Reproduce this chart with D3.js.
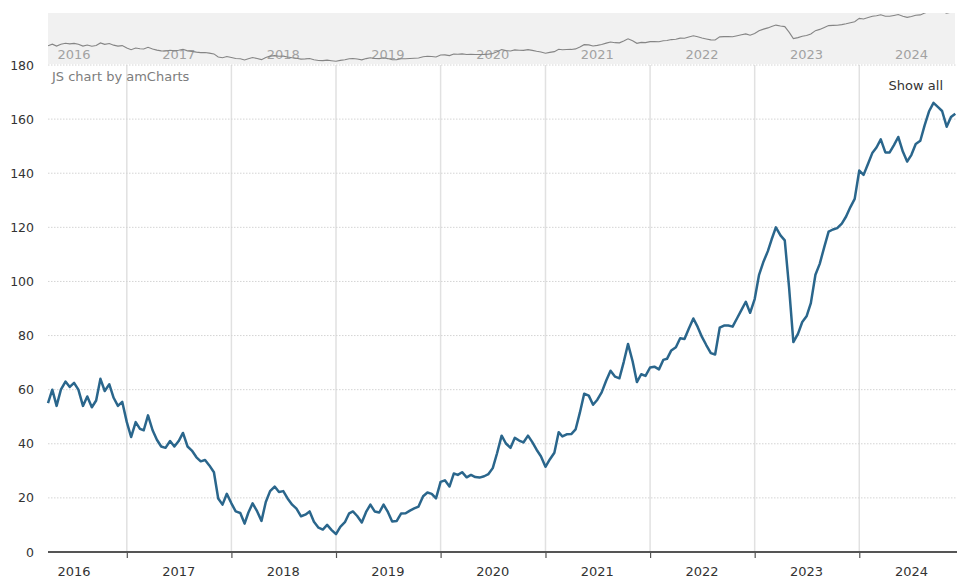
<!DOCTYPE html>
<html><head><meta charset="utf-8">
<script src="https://cdn.jsdelivr.net/npm/d3@7"></script>
<style>
body{margin:0;background:#fff;}
svg{display:block;font-family:"DejaVu Sans",Verdana,sans-serif;}
</style>
</head><body>
<svg id="chart" width="968" height="578"></svg>
<script>
const dates = [
"2016-04-01","2016-04-16","2016-05-01","2016-05-16","2016-06-01","2016-06-16","2016-07-01","2016-07-16","2016-08-01","2016-08-16","2016-09-01","2016-09-16","2016-10-01","2016-10-16","2016-11-01","2016-11-16","2016-12-01","2016-12-16",
"2017-01-01","2017-01-16","2017-02-01","2017-02-16","2017-03-01","2017-03-16","2017-04-01","2017-04-16","2017-05-01","2017-05-16","2017-06-01","2017-06-16","2017-07-01","2017-07-16","2017-08-01","2017-08-16","2017-09-01","2017-09-16","2017-10-01","2017-10-16","2017-11-01","2017-11-16","2017-12-01","2017-12-16",
"2018-01-01","2018-01-16","2018-02-01","2018-02-16","2018-03-01","2018-03-16","2018-04-01","2018-04-16","2018-05-01","2018-05-16","2018-06-01","2018-06-16","2018-07-01","2018-07-16","2018-08-01","2018-08-16","2018-09-01","2018-09-16","2018-10-01","2018-10-16","2018-11-01","2018-11-16","2018-12-01","2018-12-16",
"2019-01-01","2019-01-16","2019-02-01","2019-02-16","2019-03-01","2019-03-16","2019-04-01","2019-04-16","2019-05-01","2019-05-16","2019-06-01","2019-06-16","2019-07-01","2019-07-16","2019-08-01","2019-08-16","2019-09-01","2019-09-16","2019-10-01","2019-10-16","2019-11-01","2019-11-16","2019-12-01","2019-12-16",
"2020-01-01","2020-01-16","2020-02-01","2020-02-16","2020-03-01","2020-03-16","2020-04-01","2020-04-16","2020-05-01","2020-05-16","2020-06-01","2020-06-16","2020-07-01","2020-07-16","2020-08-01","2020-08-16","2020-09-01","2020-09-16","2020-10-01","2020-10-16","2020-11-01","2020-11-16","2020-12-01","2020-12-16",
"2021-01-01","2021-01-16","2021-02-01","2021-02-16","2021-03-01","2021-03-16","2021-04-01","2021-04-16","2021-05-01","2021-05-16","2021-06-01","2021-06-16","2021-07-01","2021-07-16","2021-08-01","2021-08-16","2021-09-01","2021-09-16","2021-10-01","2021-10-16","2021-11-01","2021-11-16","2021-12-01","2021-12-16",
"2022-01-01","2022-01-16","2022-02-01","2022-02-16","2022-03-01","2022-03-16","2022-04-01","2022-04-16","2022-05-01","2022-05-16","2022-06-01","2022-06-16","2022-07-01","2022-07-16","2022-08-01","2022-08-16","2022-09-01","2022-09-16","2022-10-01","2022-10-16","2022-11-01","2022-11-16","2022-12-01","2022-12-16",
"2023-01-01","2023-01-16","2023-02-01","2023-02-16","2023-03-01","2023-03-16","2023-04-01","2023-04-16","2023-05-01","2023-05-16","2023-06-01","2023-06-16","2023-07-01","2023-07-16","2023-08-01","2023-08-16","2023-09-01","2023-09-16","2023-10-01","2023-10-16","2023-11-01","2023-11-16","2023-12-01","2023-12-16",
"2024-01-01","2024-01-16","2024-02-01","2024-02-16","2024-03-01","2024-03-16","2024-04-01","2024-04-16","2024-05-01","2024-05-16","2024-06-01","2024-06-16","2024-07-01","2024-07-16","2024-08-01","2024-08-16","2024-09-01","2024-09-16","2024-10-01","2024-10-16","2024-11-01","2024-11-16","2024-12-01"
];
const values = [
55,60,54,60,63,61,62.5,60,54,57.5,53.5,56,64,59.5,62,57,54,55.5,
48,42.5,48,45.5,45,50.5,45,41.5,39,38.5,41,39,41,44,39,37.5,35,33.5,34,32,29.5,19.8,17.5,21.5,
18,15,14.4,10.5,14.5,18,15,11.5,18.5,22.5,24.2,22.2,22.5,19.8,17.5,16,13.2,13.8,15,11.2,9,8.3,10,8.2,
6.6,9.3,11,14.3,15,13.3,10.9,14.8,17.5,15,14.6,17.5,14.8,11.3,11.5,14.2,14.3,15.3,16.1,16.8,20.6,22,21.5,19.8,
25.9,26.5,24.2,29,28.5,29.5,27.6,28.5,27.7,27.5,28,28.8,31,36.5,43,40.1,38.5,42.2,41.2,40.5,43,40.6,37.8,35.4,
31.5,34.2,36.7,44.3,42.7,43.5,43.6,45.3,51.5,58.5,57.8,54.4,56.3,59,63.4,67,64.8,64.2,70.2,76.9,70.5,62.8,65.7,65.1,
68.2,68.5,67.5,71,71.4,74.5,75.7,79,78.7,82.5,86.3,83.2,79.5,76.5,73.5,73,82.9,83.7,83.7,83.3,86.5,89.5,92.5,88.4,
93.5,102.3,107.4,111.2,115.5,120,117,115.2,97.8,77.6,80.6,85,87.1,92,102.5,106.5,112.8,118.4,119.2,119.7,121.4,124,127.5,130.5,
141,139.4,143.6,147.6,149.5,152.5,147.7,147.7,150.4,153.4,148,144.3,146.8,150.8,152,157.7,163,166,164.5,163,157.2,160.8,162
];
const yTicks = [0,20,40,60,80,100,120,140,160,180];
const yearLabels = ["2016","2017","2018","2019","2020","2021","2022","2023","2024"];
const yearBoundaries = ["2017","2018","2019","2020","2021","2022","2023","2024"];

const parse = d3.timeParse("%Y-%m-%d");
const data = dates.map((d, i) => ({date: parse(d), value: values[i]}));

const svg = d3.select("#chart");
const L = 48, R = 957, T = 65, B = 552;

const x = d3.scaleTime().domain([parse("2016-04-01"), parse("2024-12-07")]).range([L, R]);
const y = d3.scaleLinear().domain([0, 180]).range([B, T]);

// scrollbar
const sbTop = 13, sbBot = 64;
const ys = d3.scaleLinear().domain([0, 180]).range([63.3, 6]);
svg.append("rect").attr("x", L).attr("y", sbTop).attr("width", R - L - 2).attr("height", sbBot - sbTop).attr("fill", "#f1f1f1");
svg.append("clipPath").attr("id", "sbclip").append("rect").attr("x", L).attr("y", sbTop).attr("width", R - L - 2).attr("height", sbBot - sbTop);
svg.append("g").selectAll("text").data(yearLabels).join("text")
  .attr("x", d => x(parse(d + "-07-01"))).attr("y", 59)
  .attr("text-anchor", "middle").attr("font-size", 13).attr("fill", "#a2a2a2").text(d => d);
svg.append("path").datum(data).attr("clip-path", "url(#sbclip)")
  .attr("fill", "none").attr("stroke", "#858585").attr("stroke-width", 1.1)
  .attr("d", d3.line().x(d => x(d.date)).y(d => ys(d.value)));

// vertical grid
svg.append("g").selectAll("line").data(yearBoundaries).join("line")
  .attr("x1", d => x(parse(d + "-01-01"))).attr("x2", d => x(parse(d + "-01-01")))
  .attr("y1", T).attr("y2", B).attr("stroke", "#e1e1e1").attr("stroke-width", 1.5);

// horizontal grid
svg.append("g").selectAll("line").data(yTicks.filter(v => v > 0)).join("line")
  .attr("x1", L).attr("x2", R).attr("y1", d => y(d)).attr("y2", d => y(d))
  .attr("stroke", "#d4d4d4").attr("stroke-width", 1).attr("stroke-dasharray", "1.5,1.5");

// y axis labels
const yAxis = d3.axisLeft(y).tickValues(yTicks).tickSize(0).tickPadding(14);
const gy = svg.append("g").attr("transform", `translate(${L},0)`).call(yAxis);
gy.select(".domain").remove();
gy.selectAll("text").attr("font-size", 12.5).attr("fill", "#333").attr("font-family", "DejaVu Sans, Verdana, sans-serif");

// x axis
const xAxis = d3.axisBottom(x).tickValues(yearBoundaries.map(d => parse(d + "-01-01"))).tickSize(6).tickFormat("");
const gx = svg.append("g").attr("transform", `translate(0,${B})`).call(xAxis);
gx.select(".domain").attr("stroke", "#555").attr("stroke-width", 2).attr("d", `M${L},0H${R}`);
gx.selectAll(".tick line").attr("stroke", "#555").attr("stroke-width", 1.2);
svg.append("g").selectAll("text").data(yearLabels).join("text")
  .attr("x", d => x(parse(d + "-07-01"))).attr("y", 575.5)
  .attr("text-anchor", "middle").attr("font-size", 13).attr("fill", "#333").text(d => d);

// series
svg.append("path").datum(data)
  .attr("fill", "none").attr("stroke", "#2a668c").attr("stroke-width", 2.5).attr("stroke-linejoin", "round")
  .attr("d", d3.line().x(d => x(d.date)).y(d => y(d.value)));

// texts
svg.append("text").attr("x", 52).attr("y", 81).attr("font-size", 13).attr("fill", "#7d7d7d").text("JS chart by amCharts");
svg.append("text").attr("x", 943).attr("y", 90).attr("text-anchor", "end").attr("font-size", 13).attr("fill", "#333").text("Show all");
</script>
</body></html>
